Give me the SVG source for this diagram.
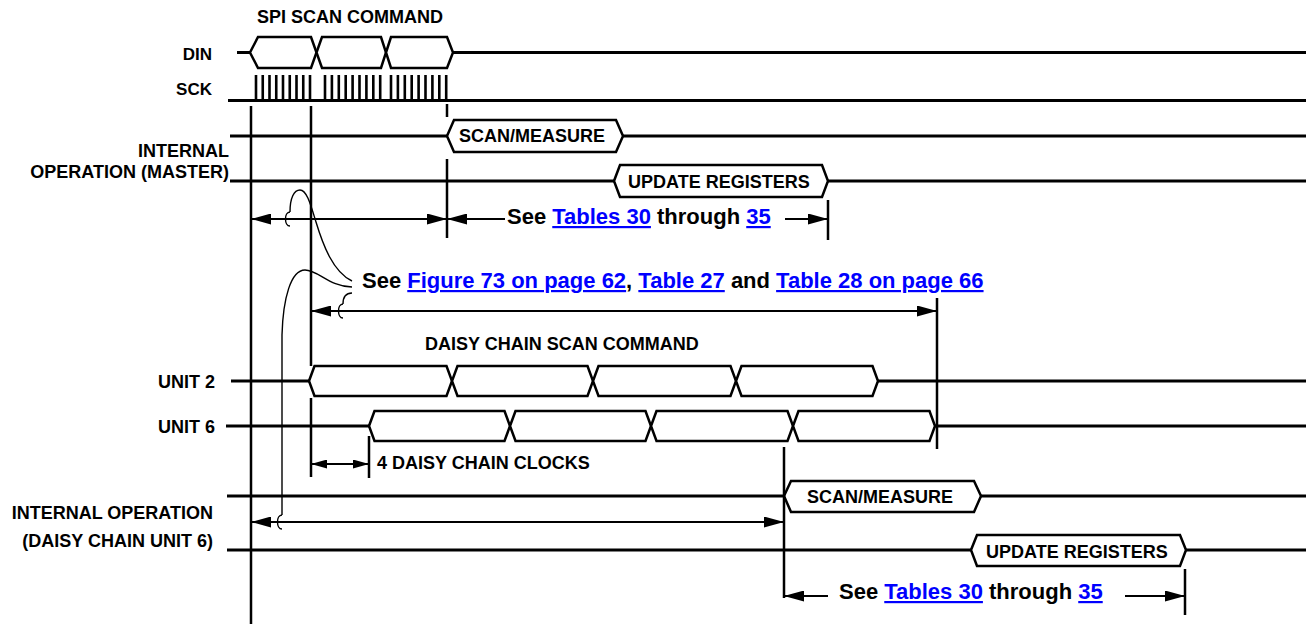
<svg xmlns="http://www.w3.org/2000/svg" width="1312" height="624" viewBox="0 0 1312 624">
<defs>
<style>
.sig{fill:none;stroke:#000;stroke-width:3}
.hex{fill:#fff;stroke:#000;stroke-width:2.5;stroke-linejoin:miter}
.vl{stroke:#000;stroke-width:2.5;fill:none}
.ar{stroke:#000;stroke-width:2;fill:none}
.ld{stroke:#000;stroke-width:1.4;fill:none}
.pulse{stroke:#000;stroke-width:2.6;fill:none}
.lbl{font-family:"Liberation Sans",Arial,sans-serif;font-weight:bold;font-size:18px;fill:#000}
.sm{font-size:17px}
.note{font-family:"Liberation Sans",Arial,sans-serif;font-weight:bold;font-size:22px;fill:#000}
.lnk{fill:#0000ff;text-decoration:underline}
</style>
<marker id="ah" markerUnits="userSpaceOnUse" markerWidth="20" markerHeight="11" refX="20" refY="5.5" orient="auto-start-reverse" viewBox="0 0 20 11"><path d="M0,0 L20,5.5 L0,11 Z" fill="#000"/></marker>
<marker id="ahs" markerUnits="userSpaceOnUse" markerWidth="16" markerHeight="9" refX="16" refY="4.5" orient="auto-start-reverse" viewBox="0 0 16 9"><path d="M0,0 L16,4.5 L0,9 Z" fill="#000"/></marker>
<path id="brk" class="ld" d="M3,-7 C-3,-7 -3,7 3,7"/>
</defs>
<rect width="1312" height="624" fill="#fff"/>

<!-- titles -->
<text class="lbl" x="257" y="23">SPI SCAN COMMAND</text>
<text class="lbl" x="425" y="350">DAISY CHAIN SCAN COMMAND</text>

<g id="din">
<text class="lbl sm" x="212" y="60" text-anchor="end">DIN</text>
<path class="sig" d="M237,52.5 H250 M453,52.5 H1306"/>
<polygon class="hex" points="250,52.5 258,37 311,37 316.5,52.5 311,68 258,68"/>
<polygon class="hex" points="316.5,52.5 322,37 381,37 386,52.5 381,68 322,68"/>
<polygon class="hex" points="386,52.5 391,37 447,37 453,52.5 447,68 391,68"/>
</g>

<g id="sck">
<text class="lbl sm" x="212" y="95" text-anchor="end">SCK</text>
<path class="sig" d="M228,100.5 H1306"/>
<path class="pulse" d="M256,75V100M262.75,75V100M269.5,75V100M276.25,75V100M283,75V100M289.75,75V100M296.5,75V100M303.25,75V100M310,75V100
M325,75V100M331.9,75V100M338.8,75V100M345.7,75V100M352.6,75V100M359.5,75V100M366.4,75V100M373.3,75V100M380.2,75V100
M391,75V100M397.9,75V100M404.8,75V100M411.7,75V100M418.6,75V100M425.5,75V100M432.4,75V100M439.3,75V100M446.2,75V100"/>
</g>

<g id="master-op">
<text class="lbl" x="229" y="157" text-anchor="end">INTERNAL</text>
<text class="lbl" x="229" y="177.5" text-anchor="end">OPERATION (MASTER)</text>
</g>

<g id="master-scan">
<path class="sig" d="M230,136 H447 M623,136 H1306"/>
<polygon class="hex" points="447,136 454,120 616,120 623,136 616,152 454,152"/>
<text class="lbl" x="459" y="142">SCAN/MEASURE</text>
</g>

<g id="master-update">
<path class="sig" d="M230,181 H614 M828,181 H1306"/>
<polygon class="hex" points="614,181 620,165 822,165 828,181 822,197 620,197"/>
<text class="lbl" x="628" y="188">UPDATE REGISTERS</text>
</g>

<g id="unit2">
<text class="lbl" x="215" y="388" text-anchor="end">UNIT 2</text>
<path class="sig" d="M231,381 H309 M878,381 H1306"/>
<polygon class="hex" points="309,381 314.5,366 446.5,366 452,381 446.5,396 314.5,396"/>
<polygon class="hex" points="452,381 457.5,366 587.5,366 593,381 587.5,396 457.5,396"/>
<polygon class="hex" points="593,381 598.5,366 730.5,366 736,381 730.5,396 598.5,396"/>
<polygon class="hex" points="736,381 741.5,366 872.5,366 878,381 872.5,396 741.5,396"/>
</g>

<g id="unit6">
<text class="lbl" x="215" y="433" text-anchor="end">UNIT 6</text>
<path class="sig" d="M226,426 H369 M935,426 H1306"/>
<polygon class="hex" points="369,426 374.5,411 504.5,411 510,426 504.5,441 374.5,441"/>
<polygon class="hex" points="510,426 515.5,411 645.5,411 651,426 645.5,441 515.5,441"/>
<polygon class="hex" points="651,426 656.5,411 787.5,411 793,426 787.5,441 656.5,441"/>
<polygon class="hex" points="793,426 798.5,411 929.5,411 935,426 929.5,441 798.5,441"/>
</g>

<g id="daisy-op">
<text class="lbl" x="213" y="519" text-anchor="end">INTERNAL OPERATION</text>
<text class="lbl" x="213" y="546.5" text-anchor="end">(DAISY CHAIN UNIT 6)</text>
</g>

<g id="daisy-scan">
<path class="sig" d="M227,496 H784 M981,496 H1306"/>
<polygon class="hex" points="784,496 791,481 974,481 981,496 974,512 791,512"/>
<text class="lbl" x="807" y="503">SCAN/MEASURE</text>
</g>

<g id="daisy-update">
<path class="sig" d="M227,550 H971 M1186,550 H1306"/>
<polygon class="hex" points="971,550 977,535 1180,535 1186,550 1180,566 977,566"/>
<text class="lbl" x="986" y="558">UPDATE REGISTERS</text>
</g>

<g id="connectors">
<!-- timing markers -->
<path class="vl" d="M251,106 V624 M311,106 V366 M311,398 V477 M447,104 V117 M447,159 V238 M828,200 V240 M937,298 V449 M369,436 V478 M784,447 V598 M1185,569 V615"/>
<!-- arrows -->
<line class="ar" x1="251" y1="219" x2="447" y2="219" marker-start="url(#ah)" marker-end="url(#ah)"/>
<line class="ar" x1="505" y1="219" x2="447" y2="219" marker-end="url(#ah)"/>
<line class="ar" x1="785" y1="219" x2="828" y2="219" marker-end="url(#ah)"/>
<line class="ar" x1="311" y1="311" x2="937" y2="311" marker-start="url(#ah)" marker-end="url(#ah)"/>
<line class="ar" x1="311" y1="464" x2="369" y2="464" marker-start="url(#ahs)" marker-end="url(#ahs)"/>
<line class="ar" x1="251" y1="522" x2="784" y2="522" marker-start="url(#ah)" marker-end="url(#ah)"/>
<line class="ar" x1="828" y1="596" x2="784" y2="596" marker-end="url(#ah)"/>
<line class="ar" x1="1125" y1="596" x2="1185" y2="596" marker-end="url(#ah)"/>
<!-- breaks -->
<use href="#brk" x="287" y="219"/>
<use href="#brk" x="340" y="311"/>
<use href="#brk" x="279" y="522"/>
<!-- leaders -->
<path class="ld" d="M290,212 C290,198 294,190 300,190 C307,190 311,206 316,222 C323,245 333,272 352,281"/>
<path class="ld" d="M352,287 C330,287 318,270 305,270 C291,270 283,298 282,335 L282,515"/>
<path class="ld" d="M352,293 C346,293 343,296 343,304"/>
</g>

<g id="notes">
<text class="note" x="507" y="224">See <tspan class="lnk">Tables 30</tspan> through <tspan class="lnk">35</tspan></text>
<text class="note" x="362" y="288">See <tspan class="lnk">Figure 73 on page 62</tspan>, <tspan class="lnk">Table 27</tspan> and <tspan class="lnk">Table 28 on page 66</tspan></text>
<text class="lbl" x="377" y="469">4 DAISY CHAIN CLOCKS</text>
<text class="note" x="839" y="599">See <tspan class="lnk">Tables 30</tspan> through <tspan class="lnk">35</tspan></text>
</g>
</svg>
